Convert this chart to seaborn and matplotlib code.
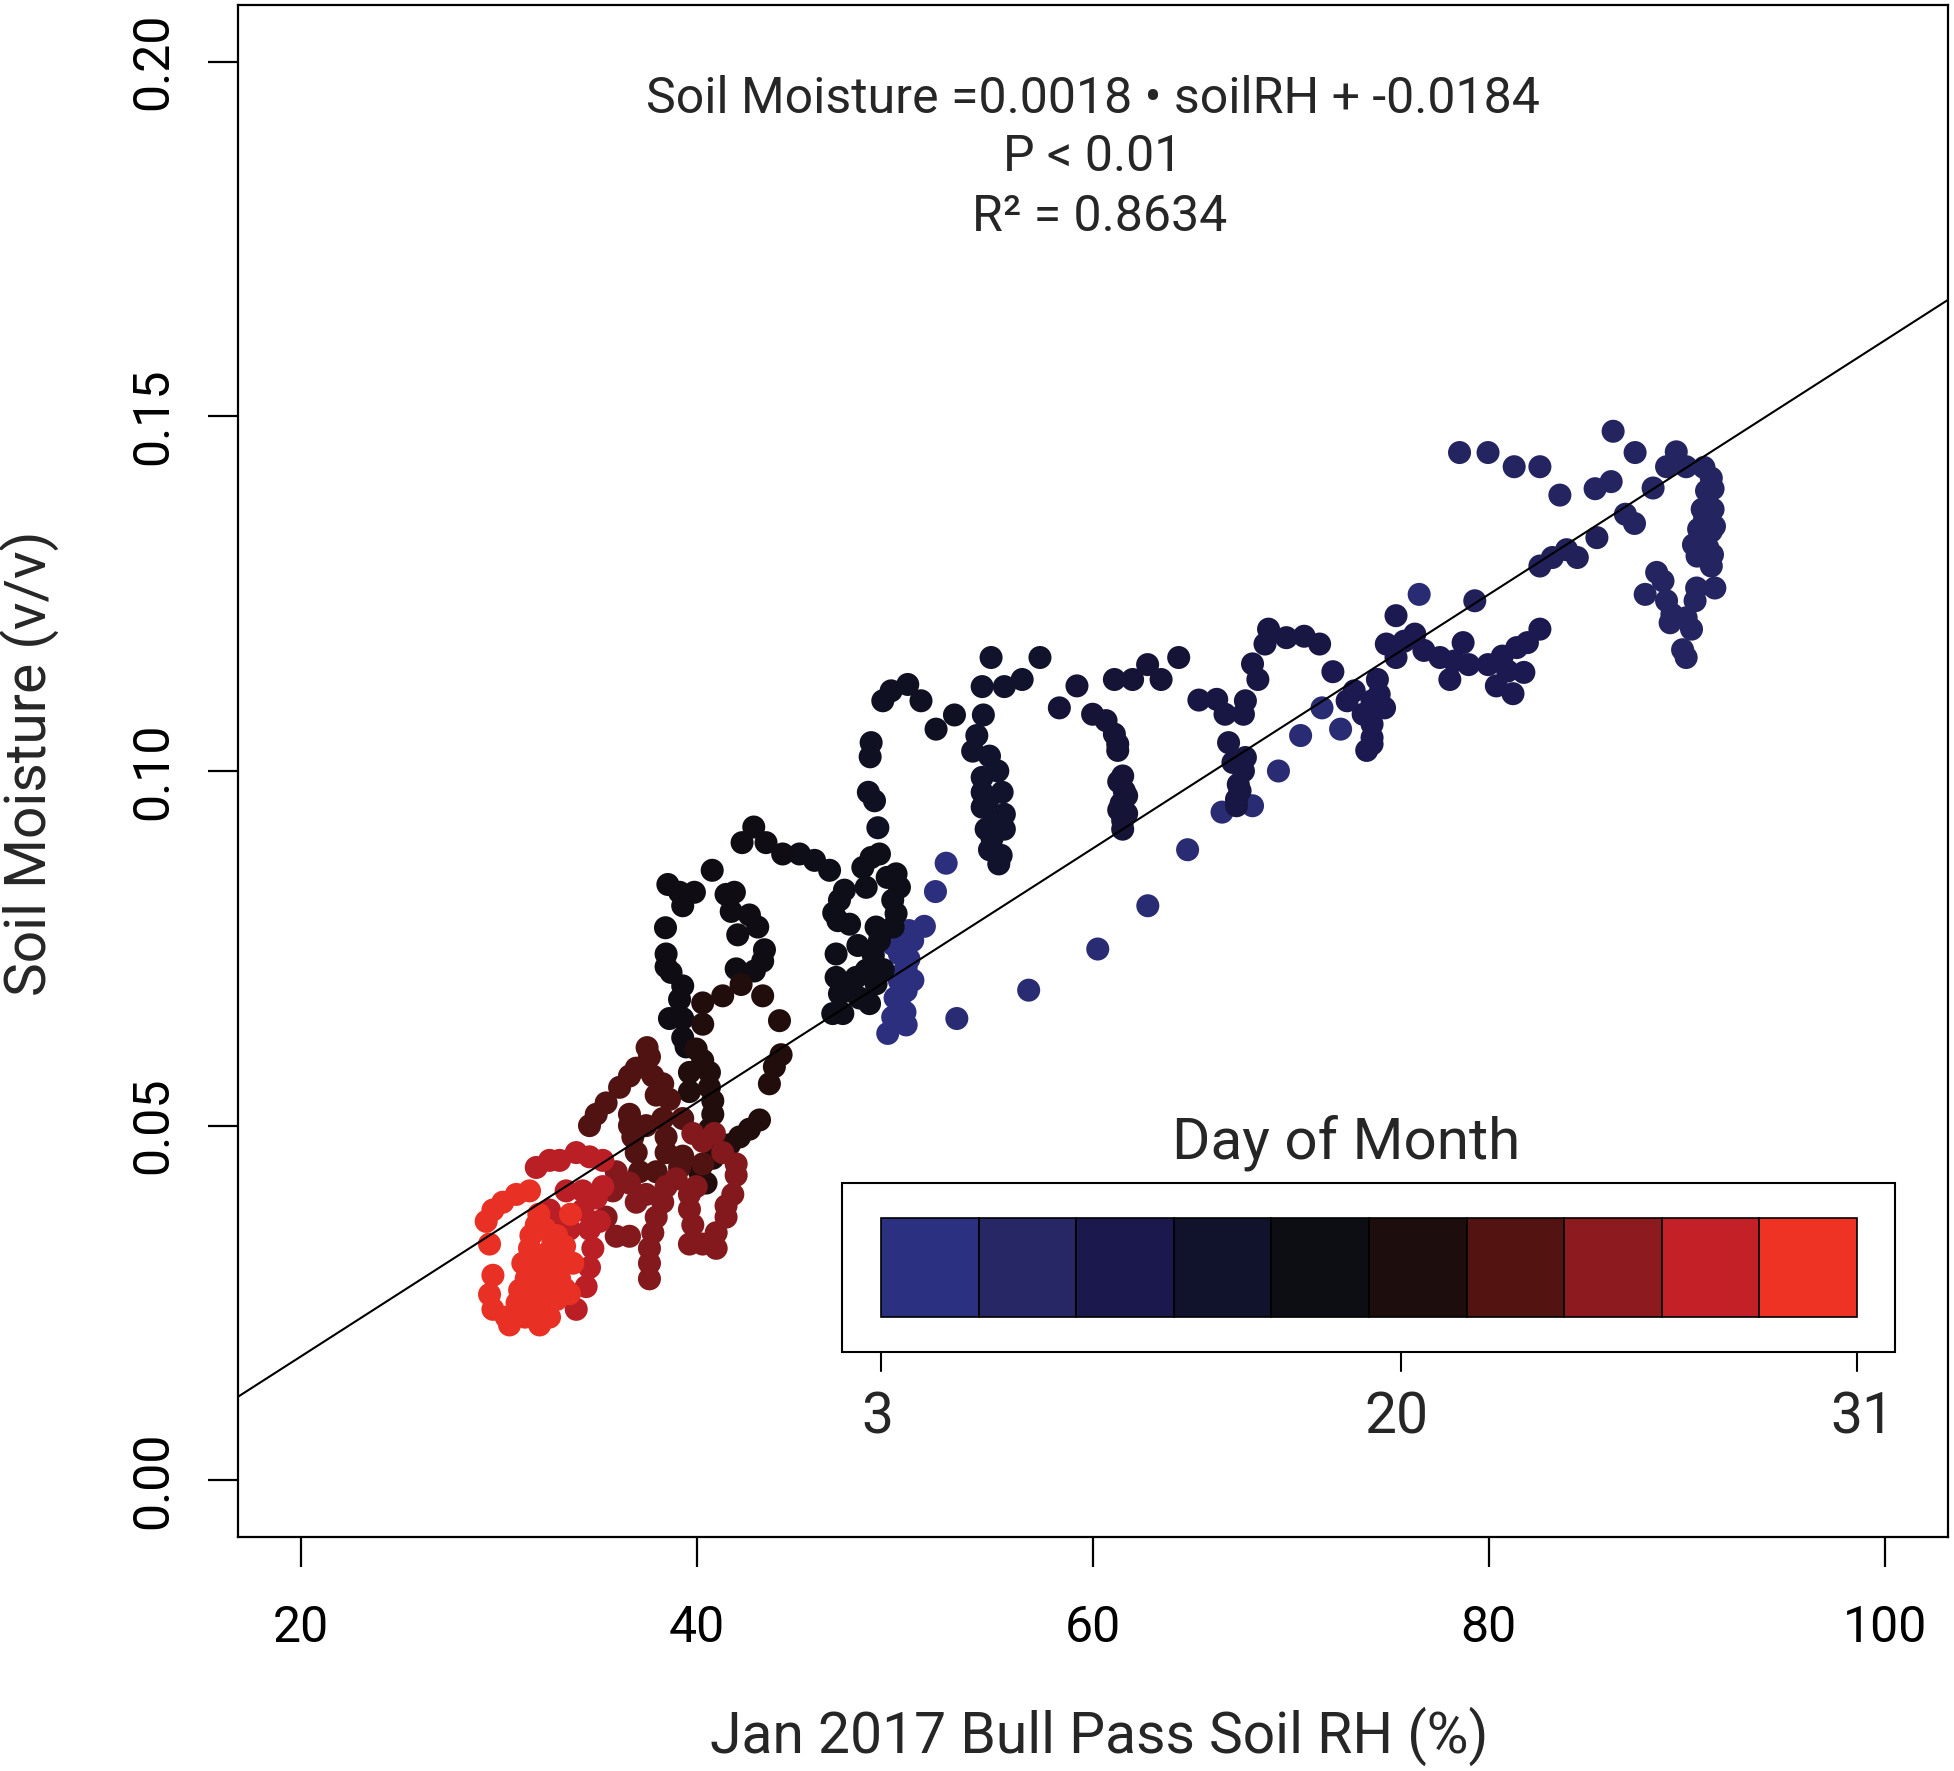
import numpy as np
import pandas as pd
import matplotlib
matplotlib.use("Agg")
import matplotlib.pyplot as plt
import seaborn as sns
from matplotlib.colors import LinearSegmentedColormap
from matplotlib.patches import Rectangle

# ---------------- data ----------------
blue_cluster_rh = [49.63, 49.88, 50.56, 50.22, 50.56, 50.22, 50.56, 50.22, 50.89, 50.39,
                   51.48, 52.04, 52.58, 50.4, 50.7, 50.0, 50.9, 50.5, 49.9, 50.7]
blue_cluster_sm = [0.0630, 0.0653, 0.0642, 0.0671, 0.0690, 0.0704, 0.0723, 0.0742, 0.0761, 0.0770,
                   0.0781, 0.0830, 0.0870, 0.0715, 0.0735, 0.0680, 0.0705, 0.0660, 0.0755, 0.0775]
blue_cluster_day = 3.3

blue_sparse_rh = [53.12, 56.75, 60.24, 62.77, 64.78, 66.52, 68.06, 69.37, 70.49, 72.51, 71.57, 76.48]
blue_sparse_sm = [0.0651, 0.0691, 0.0749, 0.0810, 0.0889, 0.0942, 0.0951, 0.1000, 0.1050, 0.1059, 0.1089, 0.1249]
blue_sparse_day = 4.6

top_rh = [86.28, 78.52, 79.96, 81.28, 82.58, 83.59, 87.39, 89.47, 88.98, 89.97,
          90.87, 91.24, 91.33, 86.18, 85.37, 88.30, 90.78, 91.33, 90.60, 91.24,
          90.34, 91.06, 90.52, 91.24, 86.90, 87.36, 88.48, 88.80, 87.90, 90.50,
          91.42, 90.42, 88.98, 89.25, 89.97, 90.24, 89.16, 89.79, 89.97, 91.0,
          90.9, 91.4, 90.7, 91.3, 90.8]
top_sm = [0.1479, 0.1449, 0.1449, 0.1429, 0.1429, 0.1389, 0.1449, 0.1450, 0.1429, 0.1429,
          0.1428, 0.1413, 0.1398, 0.1408, 0.1398, 0.1399, 0.1369, 0.1369, 0.1341, 0.1338,
          0.1319, 0.1315, 0.1303, 0.1289, 0.1362, 0.1349, 0.1280, 0.1268, 0.1249, 0.1258,
          0.1258, 0.1240, 0.1240, 0.1221, 0.1216, 0.1200, 0.1209, 0.1171, 0.1160, 0.1395,
          0.1355, 0.1345, 0.1325, 0.1305, 0.1335]
top_day = 6.8

rise_rh = [85.46, 84.47, 83.93, 83.21, 82.58, 79.29]
rise_sm = [0.1329, 0.1301, 0.1312, 0.1301, 0.1289, 0.1240]
rise_day = 7.6

loop1_rh = [75.31, 74.82, 76.26, 75.72, 76.72, 75.31, 77.53, 78.70, 78.25, 78.98,
            79.96, 80.68, 81.41, 81.95, 82.58, 80.95, 81.77, 80.38, 81.22, 78.03,
            74.37, 72.12, 73.20, 72.84, 74.10, 74.46, 74.73, 73.65, 74.10, 74.10,
            74.10, 73.83]
loop1_sm = [0.1219, 0.1179, 0.1193, 0.1183, 0.1170, 0.1160, 0.1160, 0.1181, 0.1155, 0.1150,
            0.1150, 0.1162, 0.1174, 0.1181, 0.1200, 0.1141, 0.1139, 0.1120, 0.1109, 0.1129,
            0.1129, 0.1140, 0.1113, 0.1099, 0.1099, 0.1108, 0.1089, 0.1080, 0.1066, 0.1047,
            0.1038, 0.1029]
loop1_day = 9.0

loop2_rh = [68.87, 68.69, 69.77, 70.67, 71.45, 68.06, 68.33, 67.70, 67.60, 66.67,
            66.25, 65.35, 66.85, 67.07, 67.70, 67.60, 67.34, 67.43, 67.25, 67.25]
loop2_sm = [0.1200, 0.1179, 0.1188, 0.1190, 0.1179, 0.1151, 0.1129, 0.1099, 0.1080, 0.1080,
            0.1101, 0.1100, 0.1040, 0.1012, 0.1019, 0.1000, 0.0981, 0.0972, 0.0960, 0.0951]
loop2_day = 10.3

loop3_rh = [58.30, 59.19, 59.98, 60.66, 61.08, 61.25, 61.25, 61.50, 61.58, 61.42,
            61.50, 61.50, 61.08, 62.00, 62.76, 63.44, 64.33, 61.7, 61.3, 61.7, 61.3]
loop3_sm = [0.1089, 0.1120, 0.1080, 0.1071, 0.1052, 0.1038, 0.1029, 0.0993, 0.0972, 0.0954,
            0.0930, 0.0918, 0.1129, 0.1129, 0.1150, 0.1129, 0.1160, 0.0965, 0.0985, 0.0940, 0.0945]
loop3_day = 11.3

loop4_rh = [54.85, 57.32, 54.40, 55.52, 56.42, 54.46, 54.13, 53.92, 54.77, 55.19,
            54.40, 54.40, 55.41, 54.40, 55.52, 54.60, 55.52, 54.77, 55.36, 55.24,
            54.9, 55.0, 54.7]
loop4_sm = [0.1160, 0.1160, 0.1119, 0.1119, 0.1129, 0.1079, 0.1050, 0.1028, 0.1021, 0.1000,
            0.0991, 0.0970, 0.0970, 0.0949, 0.0939, 0.0918, 0.0918, 0.0889, 0.0881, 0.0869,
            0.0905, 0.0930, 0.0960]
loop4_day = 12.3

loop5_rh = [49.38, 49.80, 50.64, 51.31, 52.07, 53.00, 48.79, 48.74, 48.65, 48.96, 49.13]
loop5_sm = [0.1099, 0.1113, 0.1122, 0.1099, 0.1059, 0.1079, 0.1040, 0.1020, 0.0970, 0.0958, 0.0920]
loop5_day = 13.4

black1_rh = [45.17, 45.93, 46.69, 48.79, 49.21, 48.37, 50.05, 50.22, 47.44, 47.19,
             48.54, 49.88, 50.05, 47.11, 47.70, 49.04, 49.21, 48.12, 47.02, 48.54,
             47.02, 48.03, 49.04, 47.19, 48.71, 47.36, 46.85, 49.6, 49.9, 48.9,
             47.6, 48.2, 46.9, 49.4]
black1_sm = [0.0883, 0.0874, 0.0860, 0.0878, 0.0883, 0.0864, 0.0855, 0.0836, 0.0832, 0.0818,
             0.0836, 0.0818, 0.0799, 0.0789, 0.0784, 0.0780, 0.0761, 0.0754, 0.0742, 0.0719,
             0.0709, 0.0709, 0.0700, 0.0686, 0.0672, 0.0658, 0.0658, 0.0850, 0.0780, 0.0740,
             0.0690, 0.0680, 0.0800, 0.0720]
black1_day = 15.0

black2_rh = [42.86, 42.27, 43.48, 44.32, 40.76, 38.52, 39.11, 39.86, 39.27, 41.46,
             41.88, 41.72, 42.64, 43.06, 42.05, 38.40, 43.40, 43.31, 38.43, 38.43,
             38.68, 41.97, 42.89, 39.27, 39.11, 38.60, 39.27, 39.44, 39.27]
black2_sm = [0.0921, 0.0899, 0.0899, 0.0883, 0.0860, 0.0840, 0.0829, 0.0829, 0.0810, 0.0826,
             0.0829, 0.0802, 0.0797, 0.0780, 0.0769, 0.0779, 0.0748, 0.0732, 0.0742, 0.0724,
             0.0716, 0.0721, 0.0718, 0.0697, 0.0678, 0.0651, 0.0651, 0.0611, 0.0624]
black2_day = 15.8

brown_rh = [40.28, 41.29, 42.22, 43.31, 44.16, 40.28, 39.95, 40.28, 40.62, 44.24,
            43.90, 43.65, 39.61, 40.62, 40.79, 40.79, 40.62, 43.15, 42.64, 42.14,
            41.63, 40.79, 40.79, 40.12, 40.45, 39.61]
brown_sm = [0.0673, 0.0683, 0.0699, 0.0683, 0.0648, 0.0643, 0.0608, 0.0592, 0.0575, 0.0600,
            0.0583, 0.0559, 0.0575, 0.0554, 0.0535, 0.0516, 0.0495, 0.0508, 0.0495, 0.0484,
            0.0473, 0.0467, 0.0454, 0.0435, 0.0419, 0.0548]
brown_day = 18.8

dred_rh = [37.47, 37.59, 36.92, 36.58, 37.76, 38.26, 36.08, 37.93, 38.60, 35.40,
           34.90, 34.56, 36.58, 36.58, 36.75, 37.42, 38.26, 39.27, 38.43, 36.92,
           38.43, 39.27, 37.09, 37.93, 39.11, 40.28]
dred_sm = [0.0610, 0.0597, 0.0581, 0.0570, 0.0570, 0.0559, 0.0554, 0.0543, 0.0537, 0.0532,
           0.0516, 0.0500, 0.0516, 0.0500, 0.0484, 0.0500, 0.0510, 0.0510, 0.0484, 0.0462,
           0.0462, 0.0457, 0.0435, 0.0435, 0.0441, 0.0446]
dred_day = 21.5

red_rh = [39.78, 40.87, 40.28, 41.29, 41.97, 41.97, 41.80, 41.46, 41.46, 40.96,
          40.28, 40.96, 39.61, 39.78, 39.61, 39.61, 39.95, 38.94, 38.43, 38.26,
          37.93, 37.76, 37.59, 37.59, 37.59, 36.58, 35.91, 35.40, 35.74, 35.91,
          36.58, 36.92, 37.42]
red_sm = [0.0489, 0.0489, 0.0478, 0.0462, 0.0446, 0.0430, 0.0403, 0.0387, 0.0371, 0.0349,
          0.0333, 0.0327, 0.0333, 0.0360, 0.0382, 0.0403, 0.0414, 0.0425, 0.0414, 0.0392,
          0.0371, 0.0349, 0.0327, 0.0306, 0.0284, 0.0344, 0.0344, 0.0371, 0.0408, 0.0435,
          0.0419, 0.0392, 0.0403]
red_day = 24.3

red2_rh = [35.23, 34.56, 33.89, 33.05, 32.54, 31.87, 34.22, 33.38, 35.23, 34.90,
           34.22, 35.06, 34.56, 34.73, 34.56, 34.39, 33.89, 32.54, 33.05, 33.55]
red2_sm = [0.0451, 0.0456, 0.0462, 0.0451, 0.0451, 0.0441, 0.0408, 0.0408, 0.0414, 0.0398,
           0.0381, 0.0365, 0.0354, 0.0327, 0.0300, 0.0273, 0.0241, 0.0381, 0.0365, 0.0354]
red2_day = 27.2

bright_rh = [31.53, 30.86, 30.18, 29.68, 29.34, 29.51, 29.68, 29.51, 29.68, 30.35,
             30.52, 31.70, 32.04, 32.54, 31.70, 31.03, 31.53, 31.87, 32.71, 32.20,
             33.05, 33.72, 33.05, 33.55, 32.54, 31.87, 32.20, 31.19, 31.36,
             32.9, 32.3, 32.6, 31.9, 32.8, 33.3, 31.6, 32.0, 33.6, 31.3, 30.9, 32.9, 33.3]
bright_sm = [0.0408, 0.0403, 0.0392, 0.0381, 0.0365, 0.0333, 0.0289, 0.0262, 0.0241, 0.0230,
             0.0219, 0.0246, 0.0219, 0.0230, 0.0279, 0.0268, 0.0327, 0.0360, 0.0338, 0.0317,
             0.0311, 0.0306, 0.0284, 0.0263, 0.0263, 0.0252, 0.0284, 0.0306, 0.0284,
             0.0345, 0.0355, 0.0325, 0.0300, 0.0295, 0.0330, 0.0345, 0.0375, 0.0375, 0.0230,
             0.0250, 0.0255, 0.0270]
bright_day = 30.5

# regression annotation / fit
fit_slope = 0.00179
fit_intercept = -0.0183
eq_lines = ["Soil Moisture =0.0018 \u2022 soilRH + -0.0184", "P < 0.01", "R\u00b2 = 0.8634"]

# axis ticks
x_ticks = [20, 40, 60, 80, 100]
y_ticks = [0.00, 0.05, 0.10, 0.15, 0.20]
y_tick_labels = ["0.00", "0.05", "0.10", "0.15", "0.20"]

# colour legend
legend_colors = ["#2B3080", "#262764", "#1B184E", "#11122B", "#0D0D14",
                 "#1E0D0D", "#521311", "#8C1A1E", "#C42027", "#EE3324"]
legend_labels = ["3", "20", "31"]
legend_tick_frac = [0.0, 0.533, 1.0]
day_min, day_max = 3, 31

# ---------------- build frame ----------------
groups = [
    (blue_cluster_rh, blue_cluster_sm, blue_cluster_day),
    (blue_sparse_rh, blue_sparse_sm, blue_sparse_day),
    (top_rh, top_sm, top_day),
    (rise_rh, rise_sm, rise_day),
    (loop1_rh, loop1_sm, loop1_day),
    (loop2_rh, loop2_sm, loop2_day),
    (loop3_rh, loop3_sm, loop3_day),
    (loop4_rh, loop4_sm, loop4_day),
    (loop5_rh, loop5_sm, loop5_day),
    (black1_rh, black1_sm, black1_day),
    (black2_rh, black2_sm, black2_day),
    (brown_rh, brown_sm, brown_day),
    (dred_rh, dred_sm, dred_day),
    (red_rh, red_sm, red_day),
    (red2_rh, red2_sm, red2_day),
    (bright_rh, bright_sm, bright_day),
]
df = pd.concat([pd.DataFrame({"rh": r, "sm": s, "day": d}) for r, s, d in groups],
               ignore_index=True).sort_values("day", kind="stable")

cmap = LinearSegmentedColormap.from_list("daymonth", legend_colors)

# ---------------- figure ----------------
sns.set_style("white")
plt.rcParams["font.family"] = ["Roboto", "DejaVu Sans"]

fig = plt.figure(figsize=(19.54, 17.71), dpi=100)
ax = fig.add_axes([0.12180, 0.13213, 0.87513, 0.86505])

sns.scatterplot(data=df, x="rh", y="sm", hue="day", palette=cmap,
                hue_norm=(day_min, day_max), s=275, linewidth=0, alpha=1,
                legend=False, ax=ax, zorder=2)

ax.axline((0, fit_intercept), slope=fit_slope, color="black", lw=1.5, zorder=3)

ax.set_xlim(16.8, 103.2)
ax.set_ylim(-0.008, 0.208)

for sp in ax.spines.values():
    sp.set_visible(True)
    sp.set_color("black")
    sp.set_linewidth(1.6)

ax.set_xticks(x_ticks, labels=[str(t) for t in x_ticks], fontsize=36)
ax.set_yticks(y_ticks, labels=y_tick_labels, fontsize=36, rotation=90, va="center")
ax.tick_params(axis="x", direction="out", length=21.6, width=1.6, pad=27, colors="black",
               bottom=True, top=False)
ax.tick_params(axis="y", direction="out", length=21.6, width=1.6, pad=22, colors="black",
               left=True, right=False)
ax.grid(False)

ax.set_xlabel("Jan 2017 Bull Pass Soil RH (%)", fontsize=41, va="center")
ax.xaxis.set_label_coords(0.5035, -0.1299)
ax.set_ylabel("Soil Moisture (v/v)", fontsize=41, va="center")
ax.yaxis.set_label_coords(-0.1220, 0.5052)

# equation block
eq_pos = [(0.5, 0.9387), (0.5, 0.9008), (0.5041, 0.8616)]
for txt, (px, py) in zip(eq_lines, eq_pos):
    ax.text(px, py, txt, transform=ax.transAxes, ha="center", va="center", fontsize=36)

# colour legend
box_x0, box_x1, box_y0, box_y1 = 0.3532, 0.969, 0.1208, 0.2311
bar_x0, bar_x1, bar_y0, bar_y1 = 0.376, 0.9468, 0.1436, 0.2082
legend_label_x = [0.3737, 0.6772, 0.9497]
ax.add_patch(Rectangle((box_x0, box_y0), box_x1 - box_x0, box_y1 - box_y0,
                       transform=ax.transAxes, facecolor="white", edgecolor="black",
                       lw=1.5, zorder=5))
n = len(legend_colors)
cw = (bar_x1 - bar_x0) / n
for i, c in enumerate(legend_colors):
    ax.add_patch(Rectangle((bar_x0 + i * cw, bar_y0), cw, bar_y1 - bar_y0,
                           transform=ax.transAxes, facecolor=c, edgecolor="black",
                           lw=1.2, zorder=6))
for lab, f, lx in zip(legend_labels, legend_tick_frac, legend_label_x):
    xx = bar_x0 + f * (bar_x1 - bar_x0)
    ax.plot([xx, xx], [box_y0, 0.1084], transform=ax.transAxes, color="black",
            lw=1.5, clip_on=False, zorder=6)
    ax.text(lx, 0.0775, lab, transform=ax.transAxes, ha="center", va="center",
            fontsize=41, zorder=6)
ax.text(0.648, 0.2572, "Day of Month", transform=ax.transAxes, ha="center",
        va="center", fontsize=42, zorder=6)

fig.savefig("out.png", dpi=100, facecolor="white")
